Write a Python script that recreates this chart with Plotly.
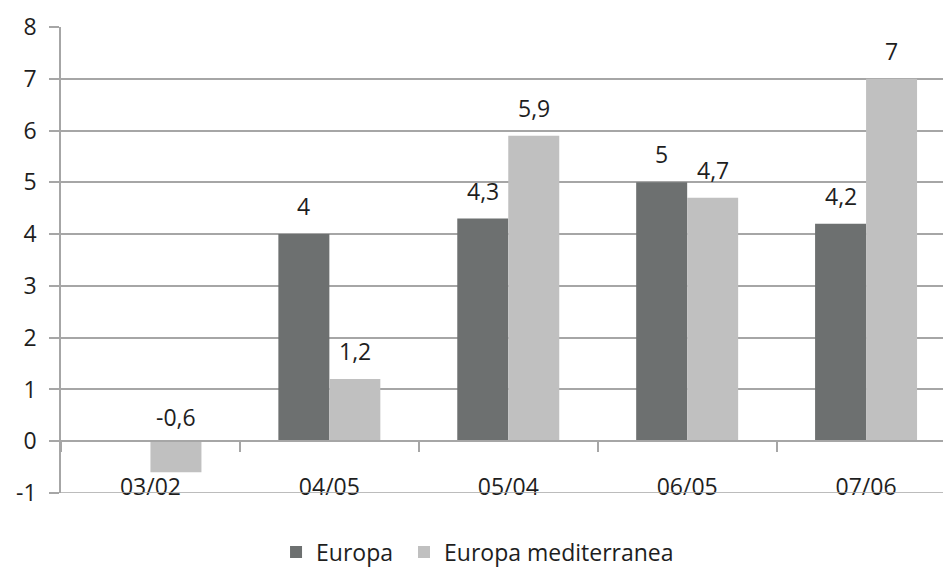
import plotly.graph_objects as go

# Growth rates by period (percent)
periods = ["03/02", "04/05", "05/04", "06/05", "07/06"]
europa = [None, 4.0, 4.3, 5.0, 4.2]
europa_med = [-0.6, 1.2, 5.9, 4.7, 7.0]
y_ticks = [-1, 0, 1, 2, 3, 4, 5, 6, 7, 8]

DARK = "#6d7070"
LIGHT = "#c0c0c0"
GRID = "#a6a6a6"
TEXT = "#1e1e1e"
FONT = "Open Sans"
SIZE = 23

fig = go.Figure()
fig.add_trace(go.Bar(name="Europa", x=periods, y=europa, marker_color=DARK,
                     marker_line_width=0, legend="legend"))
fig.add_trace(go.Bar(name="Europa mediterranea", x=periods, y=europa_med,
                     marker_color=LIGHT, marker_line_width=0, legend="legend2"))

bargap = 0.43
half = (1 - bargap) / 4  # centre offset of each bar within a group


def fmt(v):
    return f"{v:g}".replace(".", ",")


annotations = []
for series, shift in ((europa, -half), (europa_med, half)):
    for i, v in enumerate(series):
        if v is None:
            continue
        annotations.append(dict(
            x=i + shift, y=max(v, 0), xref="x", yref="y",
            text=fmt(v), showarrow=False, yanchor="bottom",
            yshift=10 if v > 0 else 6,
            font=dict(family=FONT, size=SIZE, color=TEXT)))

legend_style = dict(orientation="h", xanchor="left", yref="container",
                    y=1 - 552 / 568, yanchor="middle",
                    font=dict(family=FONT, size=SIZE, color=TEXT),
                    itemwidth=30, bgcolor="rgba(0,0,0,0)")

fig.update_layout(
    width=943, height=568,
    margin=dict(l=61, r=0, t=27, b=75, autoexpand=False),
    paper_bgcolor="white", plot_bgcolor="white",
    barmode="group", bargap=bargap, bargroupgap=0,
    font=dict(family=FONT, size=SIZE, color=TEXT),
    showlegend=True,
    legend=dict(x=0.2438, **legend_style),
    legend2=dict(x=0.3889, **legend_style),
    annotations=annotations,
    # bottom frame line of the plotting area
    shapes=[dict(type="line", xref="paper", yref="y", x0=0, x1=1,
                 y0=-1, y1=-1, line=dict(color=GRID, width=1.5))],
    xaxis=dict(type="category", range=[-0.5, 4.43], anchor="free",
               position=1 / 9, showline=True, linecolor=GRID, linewidth=1.5,
               ticks="outside", tickson="boundaries", ticklen=10,
               tickcolor=GRID, tickwidth=1.5, showgrid=False,
               ticklabelstandoff=25, tickfont=dict(size=SIZE, color=TEXT)),
    yaxis=dict(range=[-1, 8], tickvals=y_ticks, ticktext=[str(t) for t in y_ticks],
               showgrid=True, gridcolor=GRID, gridwidth=1.5,
               zeroline=True, zerolinecolor=GRID, zerolinewidth=1.5,
               showline=True, linecolor=GRID, linewidth=1.5,
               ticks="outside", ticklen=10, tickcolor=GRID, tickwidth=1.5,
               ticklabelstandoff=8, tickfont=dict(size=SIZE, color=TEXT)),
)

fig.write_html("out.html")
